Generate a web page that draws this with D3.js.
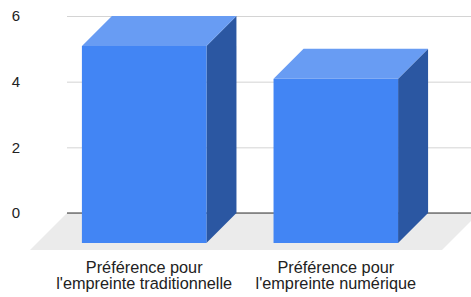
<!DOCTYPE html>
<html>
<head>
<meta charset="utf-8">
<script src="https://cdn.jsdelivr.net/npm/d3@7"></script>
<style>
  html, body { margin: 0; padding: 0; background: #fff; }
  svg { display: block; font-family: "Liberation Sans", Arial, sans-serif; }
</style>
</head>
<body>
<div id="chart"></div>
<script>
// data
const categories = ["Préférence pour\nl'empreinte traditionnelle", "Préférence pour\nl'empreinte numérique"];
const values = [6, 5];
const yTicks = [0, 2, 4, 6];

const width = 471, height = 297;
const depth = 30;          // 3d offset of the bars
const floorDepth = 37;
const plotLeft = 67, plotRight = 479;
const frontColor = '#4285f4', topColor = '#689cf3', sideColor = '#2b57a2';

const svg = d3.select('#chart')
  .append('svg')
  .attr('width', width)
  .attr('height', height);

// back-plane scales
const y = d3.scaleLinear()
  .domain([0, d3.max(yTicks)])
  .range([213, 16]);

const x = d3.scaleBand()
  .domain(categories)
  .range([plotLeft - 3, plotRight - 3])
  .paddingInner(0.35)
  .paddingOuter(0.25);

// floor
const y0 = y(0);
svg.append('polygon')
  .attr('points', [
    [plotLeft, y0], [plotRight, y0],
    [plotRight - floorDepth, y0 + floorDepth], [plotLeft - floorDepth, y0 + floorDepth]
  ].map(p => p.join(',')).join(' '))
  .attr('fill', '#ebebeb');

// gridlines + y labels
const yAxis = svg.append('g')
  .attr('transform', `translate(${plotLeft},0)`)
  .call(d3.axisLeft(y)
    .tickValues(yTicks)
    .tickFormat(d3.format('d'))
    .tickSize(-(plotRight - plotLeft))
    .tickPadding(47));

yAxis.select('.domain').remove();
yAxis.selectAll('.tick line').attr('stroke', '#d4d4d4');
yAxis.selectAll('.tick text')
  .attr('fill', '#222')
  .attr('font-size', 15)
  .attr('font-family', '"Liberation Sans", Arial, sans-serif');

// baseline
svg.append('line')
  .attr('x1', plotLeft).attr('x2', plotRight)
  .attr('y1', y0).attr('y2', y0)
  .attr('stroke', '#333')
  .attr('stroke-width', 1);

// bars
const bw = x.bandwidth();
const bars = svg.selectAll('.bar')
  .data(categories.map((c, i) => ({ name: c, value: values[i] })))
  .enter()
  .append('g')
  .attr('class', 'bar');

bars.append('polygon')
  .attr('fill', sideColor)
  .attr('points', d => {
    const bx = x(d.name), yt = y(d.value);
    return [[bx + bw - depth, yt + depth], [bx + bw, yt], [bx + bw, y0], [bx + bw - depth, y0 + depth]]
      .map(p => p.join(',')).join(' ');
  });

bars.append('polygon')
  .attr('fill', topColor)
  .attr('points', d => {
    const bx = x(d.name), yt = y(d.value);
    return [[bx - depth, yt + depth], [bx + bw - depth, yt + depth], [bx + bw, yt], [bx, yt]]
      .map(p => p.join(',')).join(' ');
  });

bars.append('rect')
  .attr('fill', frontColor)
  .attr('x', d => x(d.name) - depth)
  .attr('y', d => y(d.value) + depth)
  .attr('width', bw)
  .attr('height', d => y0 - y(d.value));

// category labels
const labels = svg.selectAll('.label')
  .data(categories)
  .enter()
  .append('text')
  .attr('class', 'label')
  .attr('text-anchor', 'middle')
  .attr('font-size', 16.3)
  .attr('fill', '#222');

labels.selectAll('tspan')
  .data(d => d.split('\n').map(line => ({ line, name: d })))
  .enter()
  .append('tspan')
  .attr('x', d => x(d.name) + bw / 2 - depth)
  .attr('y', (d, i) => 273 + i * 16)
  .text(d => d.line);
</script>
</body>
</html>
